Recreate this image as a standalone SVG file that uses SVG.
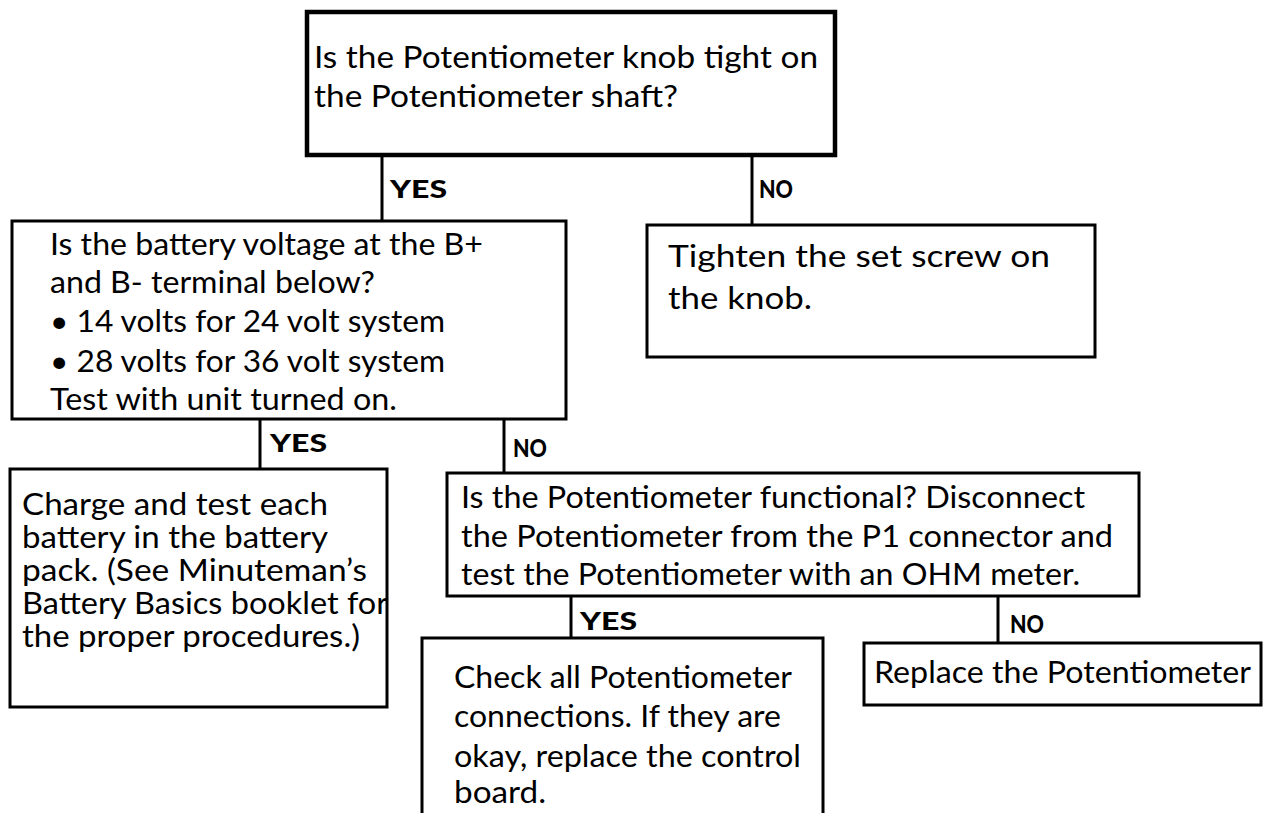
<svg xmlns="http://www.w3.org/2000/svg" width="1264" height="813" viewBox="0 0 1264 813">
  <style>
    .box { fill: #fff; stroke: #000; stroke-width: 3; }
    .box.heavy { stroke-width: 4.5; }
    .txt { font-family: Lato, "Open Sans", "Liberation Sans", sans-serif; font-size: 30px; fill: #000; }
    .lbl { font-family: Lato, "Open Sans", "Liberation Sans", sans-serif; font-size: 25px; font-weight: 900; fill: #000; }
    .conn { stroke: #000; stroke-width: 3; fill: none; }
  </style>
  <rect width="1264" height="813" fill="#fff"/>

  <!-- branch lines with their YES / NO labels -->
  <g id="connectors">
    <path class="conn" d="M382 155 V221"/>
    <path class="conn" d="M752 155 V225"/>
    <path class="conn" d="M260 419 V469"/>
    <path class="conn" d="M504 419 V473"/>
    <path class="conn" d="M571 596 V638"/>
    <path class="conn" d="M998 596 V643"/>
    <text class="lbl" x="390" y="198" textLength="57" lengthAdjust="spacingAndGlyphs">YES</text>
    <text class="lbl" x="759" y="198" textLength="34" lengthAdjust="spacingAndGlyphs">NO</text>
    <text class="lbl" x="270" y="452" textLength="57" lengthAdjust="spacingAndGlyphs">YES</text>
    <text class="lbl" x="513" y="457" textLength="34" lengthAdjust="spacingAndGlyphs">NO</text>
    <text class="lbl" x="580" y="630" textLength="57" lengthAdjust="spacingAndGlyphs">YES</text>
    <text class="lbl" x="1010" y="633" textLength="34" lengthAdjust="spacingAndGlyphs">NO</text>
  </g>

  <g id="knob-tight">
    <rect class="box heavy" x="307" y="12" width="528" height="143"/>
    <text class="txt" x="314" y="68" textLength="504" lengthAdjust="spacingAndGlyphs">Is the Potentiometer knob tight on</text>
    <text class="txt" x="314" y="107" textLength="364" lengthAdjust="spacingAndGlyphs">the Potentiometer shaft?</text>
  </g>

  <g id="tighten-screw">
    <rect class="box" x="647" y="225" width="448" height="132"/>
    <text class="txt" x="668" y="267" textLength="382" lengthAdjust="spacingAndGlyphs">Tighten the set screw on</text>
    <text class="txt" x="668" y="309" textLength="144" lengthAdjust="spacingAndGlyphs">the knob.</text>
  </g>

  <g id="battery-voltage">
    <rect class="box" x="12" y="221" width="554" height="198"/>
    <text class="txt" x="50" y="255" textLength="433" lengthAdjust="spacingAndGlyphs">Is the battery voltage at the B+</text>
    <text class="txt" x="50" y="293" textLength="325" lengthAdjust="spacingAndGlyphs">and B- terminal below?</text>
    <text class="txt" x="50" y="332" textLength="395" lengthAdjust="spacingAndGlyphs">• 14 volts for 24 volt system</text>
    <text class="txt" x="50" y="372" textLength="395" lengthAdjust="spacingAndGlyphs">• 28 volts for 36 volt system</text>
    <text class="txt" x="50" y="410" textLength="347" lengthAdjust="spacingAndGlyphs">Test with unit turned on.</text>
  </g>

  <g id="charge-batteries">
    <rect class="box" x="10" y="469" width="377" height="238"/>
    <text class="txt" x="22" y="515" textLength="306" lengthAdjust="spacingAndGlyphs">Charge and test each</text>
    <text class="txt" x="22" y="548" textLength="306" lengthAdjust="spacingAndGlyphs">battery in the battery</text>
    <text class="txt" x="22" y="581" textLength="345" lengthAdjust="spacingAndGlyphs">pack. (See Minuteman’s</text>
    <text class="txt" x="22" y="614" textLength="366" lengthAdjust="spacingAndGlyphs">Battery Basics booklet for</text>
    <text class="txt" x="22" y="647" textLength="338" lengthAdjust="spacingAndGlyphs">the proper procedures.)</text>
  </g>

  <g id="pot-functional">
    <rect class="box" x="447" y="473" width="692" height="123"/>
    <text class="txt" x="461" y="508" textLength="624" lengthAdjust="spacingAndGlyphs">Is the Potentiometer functional? Disconnect</text>
    <text class="txt" x="461" y="547" textLength="652" lengthAdjust="spacingAndGlyphs">the Potentiometer from the P1 connector and</text>
    <text class="txt" x="461" y="585" textLength="619" lengthAdjust="spacingAndGlyphs">test the Potentiometer with an OHM meter.</text>
  </g>

  <g id="check-connections">
    <rect class="box" x="422" y="638" width="401" height="200"/>
    <text class="txt" x="454" y="688" textLength="338" lengthAdjust="spacingAndGlyphs">Check all Potentiometer</text>
    <text class="txt" x="454" y="727" textLength="327" lengthAdjust="spacingAndGlyphs">connections. If they are</text>
    <text class="txt" x="454" y="767" textLength="347" lengthAdjust="spacingAndGlyphs">okay, replace the control</text>
    <text class="txt" x="454" y="803" textLength="92" lengthAdjust="spacingAndGlyphs">board.</text>
  </g>

  <g id="replace-pot">
    <rect class="box" x="864" y="643" width="397" height="62"/>
    <text class="txt" x="874" y="683" textLength="377" lengthAdjust="spacingAndGlyphs">Replace the Potentiometer</text>
  </g>
</svg>
